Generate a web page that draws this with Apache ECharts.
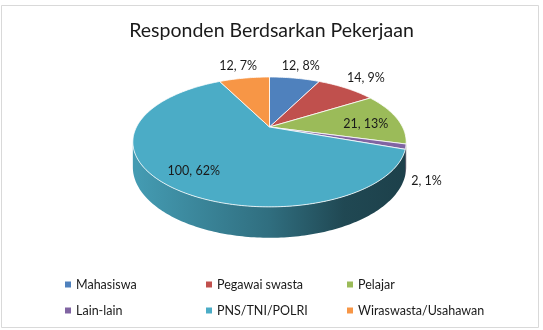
<!DOCTYPE html>
<html>
<head>
<meta charset="utf-8">
<script src="https://cdn.jsdelivr.net/npm/echarts@6/dist/echarts.min.js"></script>
<style>
html,body{margin:0;padding:0;background:#fff;}
#main{width:543px;height:330px;}
</style>
</head>
<body>
<div id="main"></div>
<script>
// data
var categories = ['Mahasiswa', 'Pegawai swasta', 'Pelajar', 'Lain-lain', 'PNS/TNI/POLRI', 'Wiraswasta/Usahawan'];
var values = [12, 14, 21, 2, 100, 12];
var percentLabels = ['8%', '9%', '13%', '1%', '62%', '7%'];

// style
var colors = ['#4F81BD', '#C0504D', '#9BBB59', '#8064A2', '#4BACC6', '#F79646'];
var fontName = 'Lato';
var textColor = '#1a1a1a';

// pie geometry (3D look)
var cx = 269.5, cy = 127, rx = 133, ry = 61.5, k = 0.23, depth = 23.8;

var total = 0;
var starts = [];
for (var i = 0; i < values.length; i++) {
    starts.push(total);
    total += values[i];
}

function proj(r, t, h) {
    var X = r * Math.sin(t), Z = r * Math.cos(t);
    var w = 1 + k * Z;
    return [cx + rx * X / w, cy + (-ry * Z + depth * h) / w];
}

function shade(hex, f) {
    var n = parseInt(hex.slice(1), 16);
    var r = Math.round(((n >> 16) & 255) * f);
    var g = Math.round(((n >> 8) & 255) * f);
    var b = Math.round((n & 255) * f);
    return 'rgb(' + r + ',' + g + ',' + b + ')';
}

function arc(a0, a1, r, h) {
    var pts = [];
    var steps = Math.max(2, Math.ceil((a1 - a0) / (Math.PI / 180)));
    for (var s = 0; s <= steps; s++) {
        pts.push(proj(r, a0 + (a1 - a0) * s / steps, h));
    }
    return pts;
}

function makeRender(idx) {
    return function (params, api) {
        var a0 = starts[idx] / total * Math.PI * 2;
        var a1 = (starts[idx] + values[idx]) / total * Math.PI * 2;
        var children = [];

        // side wall (only the front part is visible)
        var vis0 = Math.acos(-k), vis1 = Math.PI * 2 - Math.acos(-k);
        var sa = Math.max(a0, vis0), sb = Math.min(a1, vis1);
        if (sa < sb) {
            var sidePts = arc(sa, sb, 1, 0).concat(arc(sa, sb, 1, 1).reverse());
            children.push({
                type: 'polygon',
                z2: 1,
                shape: {points: sidePts},
                style: {
                    fill: new echarts.graphic.LinearGradient(cx - rx, 0, cx + rx, 0, [
                        {offset: 0, color: shade(colors[idx], 0.9)},
                        {offset: 0.5, color: shade(colors[idx], 0.64)},
                        {offset: 0.78, color: shade(colors[idx], 0.42)},
                        {offset: 1, color: shade(colors[idx], 0.38)}
                    ], true),
                    stroke: null
                }
            });
        }

        // top face
        var topPts = [proj(0, 0, 0)].concat(arc(a0, a1, 1, 0));
        children.push({
            type: 'polygon',
            z2: 10,
            shape: {points: topPts},
            style: {fill: colors[idx], stroke: '#ffffff', lineWidth: 0.8, lineJoin: 'round'}
        });

        // label
        var mid = (a0 + a1) / 2;
        var pct = values[idx] / total;
        var lp;
        if (pct >= 0.1) {
            lp = proj(0.75, mid, 0.15);
        } else if (Math.cos(mid) < 0) {
            lp = proj(1.14, mid, 1.2);
        } else {
            lp = proj(1.31, mid, 0);
        }
        children.push({
            type: 'text',
            z2: 20,
            style: {
                text: values[idx] + ', ' + percentLabels[idx],
                x: lp[0],
                y: lp[1],
                align: 'center',
                verticalAlign: 'middle',
                fill: textColor,
                font: '12.5px ' + fontName
            }
        });

        return {type: 'group', children: children};
    };
}

var chart = echarts.init(document.getElementById('main'));

var seriesList = [];
for (var j = 0; j < categories.length; j++) {
    seriesList.push({
        type: 'custom',
        name: categories[j],
        coordinateSystem: 'none',
        silent: true,
        animation: false,
        itemStyle: {color: colors[j]},
        data: [values[j]],
        renderItem: makeRender(j)
    });
}

var option = {
    backgroundColor: '#ffffff',
    title: {
        text: 'Responden Berdsarkan Pekerjaan',
        left: 'center',
        top: 16,
        textStyle: {fontFamily: fontName, fontSize: 19.5, fontWeight: 'normal', color: textColor}
    },
    legend: {
        left: 60,
        top: 269,
        width: 430,
        itemWidth: 6,
        itemHeight: 6,
        itemGap: 5,
        icon: 'rect',
        selectedMode: false,
        data: categories,
        textStyle: {fontFamily: fontName, fontSize: 12.5, color: textColor, width: 125, overflow: 'none', lineHeight: 21}
    },
    graphic: [{
        type: 'rect',
        shape: {x: 1.5, y: 5.5, width: 537, height: 322},
        style: {fill: null, stroke: '#d9d9d9', lineWidth: 1},
        silent: true
    }],
    series: seriesList
};
chart.setOption(option);
</script>
</body>
</html>
